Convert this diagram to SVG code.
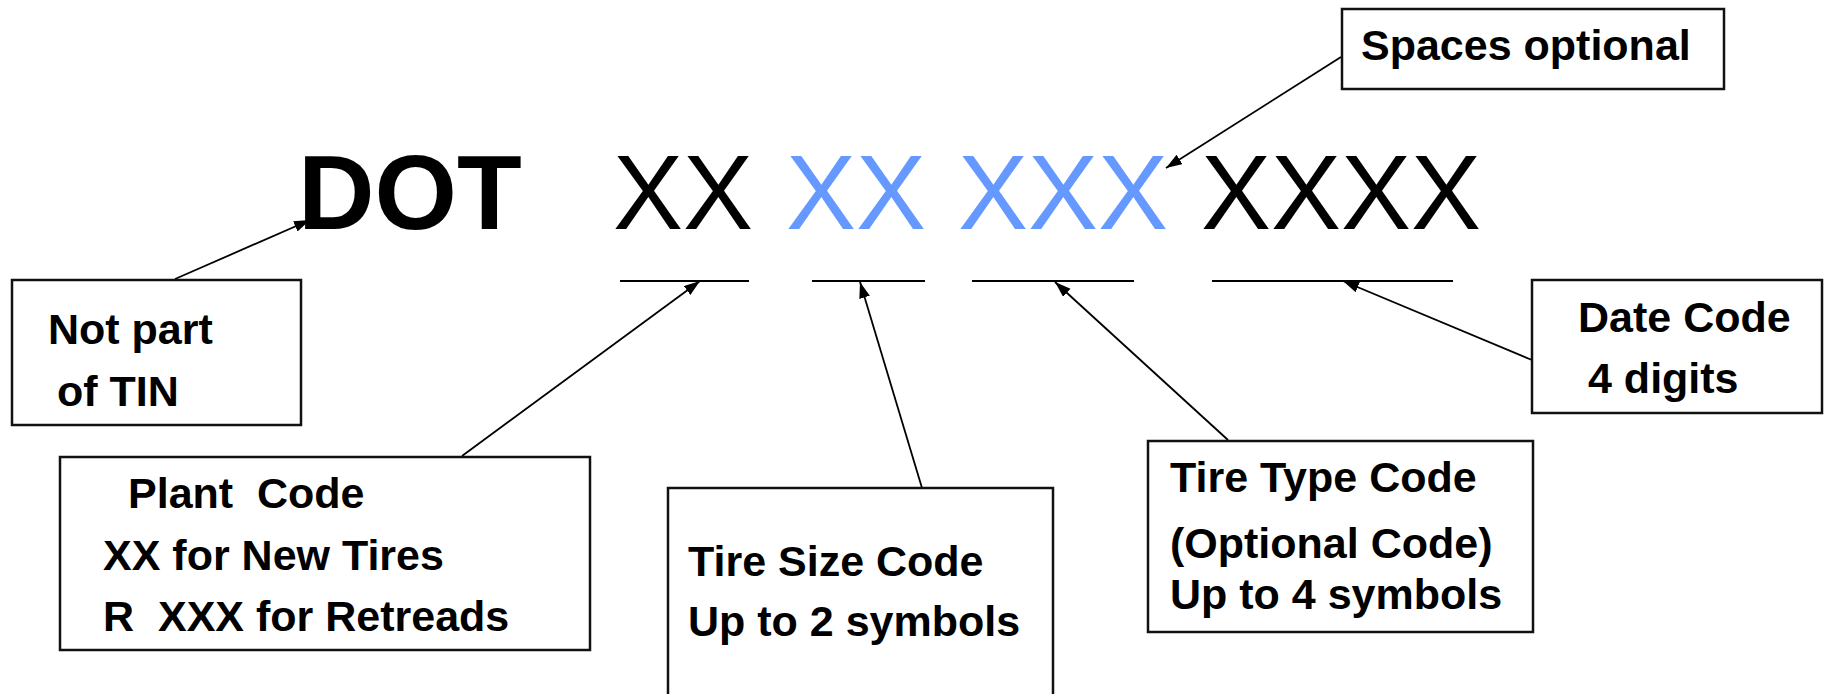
<svg xmlns="http://www.w3.org/2000/svg" width="1827" height="694" viewBox="0 0 1827 694">
<style>
.box{fill:#fff;stroke:#111;stroke-width:2.5}
.lbl{font-family:"Liberation Sans",Arial,sans-serif;font-weight:bold;font-size:43px;fill:#000;white-space:pre}
.big{font-family:"Liberation Sans",Arial,sans-serif;font-size:105px}
.blk{fill:#000}
.blue{fill:#6699FF}
.conn{stroke:#000;stroke-width:1.8;fill:none;marker-end:url(#ah)}
.ul{stroke:#000;stroke-width:2}
</style>
<defs>
<marker id="ah" markerUnits="userSpaceOnUse" markerWidth="17" markerHeight="12" refX="16" refY="5.5" orient="auto">
<path d="M0,0 L16,5.5 L0,11 z" fill="#000"/>
</marker>
</defs>
<rect width="1827" height="694" fill="#fff"/>
<g id="connectors">
<line class="conn" x1="175" y1="279" x2="310" y2="220"/>
<line class="conn" x1="462" y1="456" x2="700" y2="281"/>
<line class="conn" x1="922" y1="488" x2="860" y2="282"/>
<line class="conn" x1="1228" y1="440" x2="1055" y2="282"/>
<line class="conn" x1="1532" y1="360" x2="1343" y2="281"/>
<line class="conn" x1="1341" y1="57" x2="1166" y2="168"/>
</g>
<g id="tin-code">
<text x="298" y="229" font-family="Liberation Sans, Arial, sans-serif" font-weight="bold" font-size="106" fill="#000">DOT</text>
<text class="big blk" x="613" y="229">XX</text>
<text class="big blue" x="786" y="229">XX</text>
<text class="big blue" x="958" y="229">XXX</text>
<text class="big blk" x="1201" y="229">XXXX</text>
</g>
<g id="underlines">
<line class="ul" x1="620" y1="281" x2="749" y2="281"/>
<line class="ul" x1="812" y1="281" x2="925" y2="281"/>
<line class="ul" x1="972" y1="281" x2="1134" y2="281"/>
<line class="ul" x1="1212" y1="281" x2="1453" y2="281"/>
</g>
<g id="spaces-optional">
<rect class="box" x="1342" y="9" width="382" height="80"/>
<text class="lbl" x="1361" y="60">Spaces optional</text>
</g>
<g id="not-part">
<rect class="box" x="12" y="280" width="289" height="145"/>
<text class="lbl" x="48" y="344">Not part</text>
<text class="lbl" x="57" y="406">of TIN</text>
</g>
<g id="plant-code">
<rect class="box" x="60" y="457" width="530" height="193"/>
<text class="lbl" x="128" y="508" xml:space="preserve">Plant  Code</text>
<text class="lbl" x="103" y="570">XX for New Tires</text>
<text class="lbl" x="103" y="631" xml:space="preserve">R  XXX for Retreads</text>
</g>
<g id="tire-size">
<rect class="box" x="668" y="488" width="385" height="220"/>
<text class="lbl" x="688" y="576">Tire Size Code</text>
<text class="lbl" x="688" y="636">Up to 2 symbols</text>
</g>
<g id="tire-type">
<rect class="box" x="1148" y="441" width="385" height="191"/>
<text class="lbl" x="1170" y="492">Tire Type Code</text>
<text class="lbl" x="1170" y="558">(Optional Code)</text>
<text class="lbl" x="1170" y="609">Up to 4 symbols</text>
</g>
<g id="date-code">
<rect class="box" x="1532" y="280" width="290" height="133"/>
<text class="lbl" x="1578" y="332">Date Code</text>
<text class="lbl" x="1588" y="393">4 digits</text>
</g>
</svg>
